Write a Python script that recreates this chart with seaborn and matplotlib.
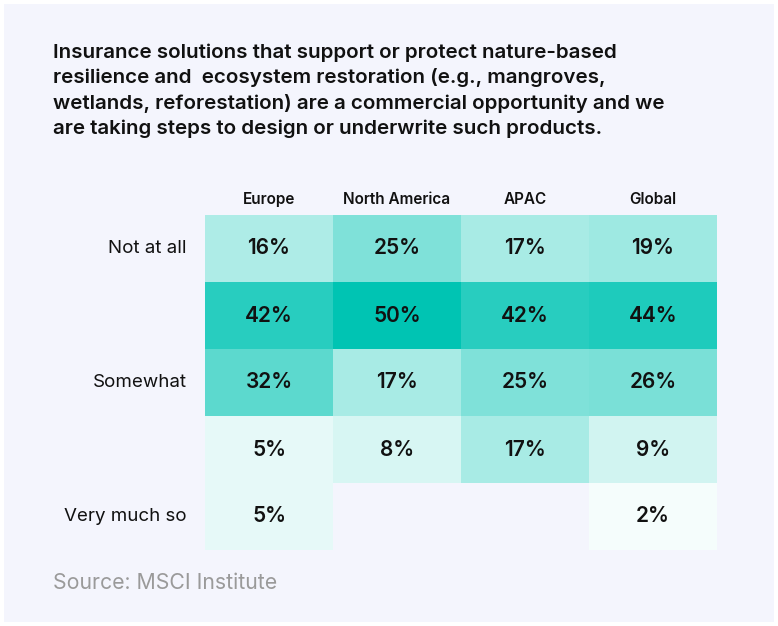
import numpy as np
import pandas as pd
import matplotlib.pyplot as plt
import seaborn as sns
from matplotlib.colors import LinearSegmentedColormap
from matplotlib.patches import Rectangle

regions = ["Europe", "North America", "APAC", "Global"]
levels = ["Not at all", "", "Somewhat", "", "Very much so"]
europe = [16, 42, 32, 5, 5]
north_america = [25, 50, 17, 8, np.nan]
apac = [17, 42, 25, 17, np.nan]
global_ = [19, 44, 26, 9, 2]

title = ("Insurance solutions that support or protect nature-based\n"
         "resilience and  ecosystem restoration (e.g., mangroves,\n"
         "wetlands, reforestation) are a commercial opportunity and we\n"
         "are taking steps to design or underwrite such products.")
source = "Source: MSCI Institute"

df = pd.DataFrame({"Europe": europe, "North America": north_america,
                   "APAC": apac, "Global": global_})
df.index = range(len(levels))
labels = df.map(lambda v: "" if pd.isna(v) else f"{v:.0f}%")

sns.set_style("white")
plt.rcParams['font.family'] = ['Inter', 'DejaVu Sans']

bg = "#f4f5fd"
fig = plt.figure(figsize=(7.78, 6.26), dpi=100, facecolor="white")
fig.patches.append(Rectangle((4 / 778, 4 / 626), 770 / 778, 618 / 626,
                             transform=fig.transFigure, facecolor=bg,
                             edgecolor="none", zorder=-1))

ax = fig.add_axes([205 / 778, 1 - 550 / 626, 512 / 778, 335 / 626])
ax.set_facecolor(bg)
cmap = LinearSegmentedColormap.from_list("teal", ["#ffffff", "#00c4b3"])
sns.heatmap(df, ax=ax, cmap=cmap, vmin=0, vmax=50, mask=df.isna(),
            annot=labels, fmt="", cbar=False, linewidths=0,
            annot_kws={"fontsize": 15, "fontweight": "semibold", "color": "#111111"})

ax.xaxis.tick_top()
ax.set_xticklabels(regions, fontsize=11, fontweight="semibold", color="#111111")
ax.set_yticklabels(levels, rotation=0, fontsize=13.5, color="#111111")
ax.tick_params(axis="both", length=0)
ax.tick_params(axis="x", pad=6)
ax.tick_params(axis="y", pad=13)
ax.set_xlabel("")
ax.set_ylabel("")
for s in ax.spines.values():
    s.set_visible(False)

fig.text(53 / 778, 1 - 43 / 626, title, fontsize=14.8, fontweight="semibold",
         color="#111111", va="top", ha="left", linespacing=1.45)
fig.text(53 / 778, 1 - 583 / 626, source, fontsize=15.3, color="#9a9a9a",
         va="center", ha="left")

fig.savefig("out.png", dpi=100, facecolor="white")
